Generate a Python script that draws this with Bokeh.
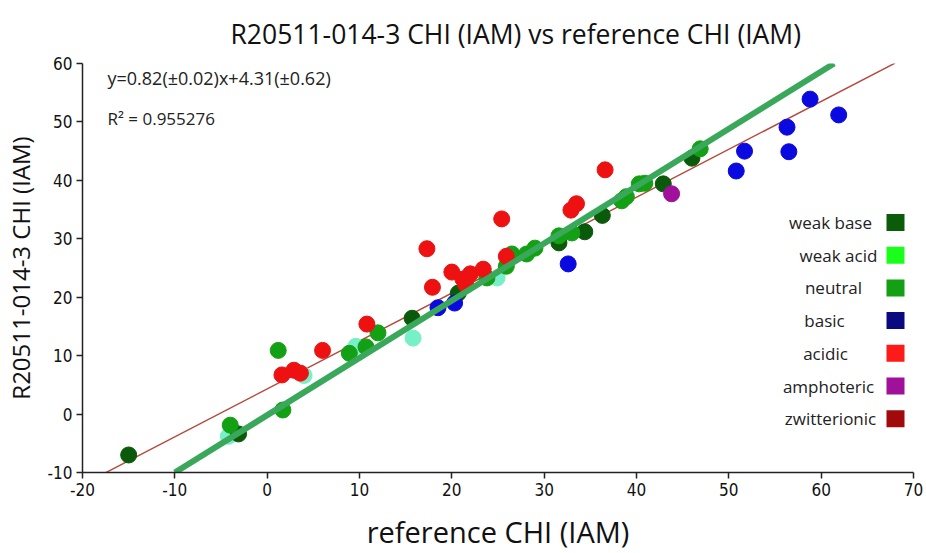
from bokeh.plotting import figure
from bokeh.models import Range1d, Label, BoxAnnotation, SingleIntervalTicker, PrintfTickFormatter
from bokeh.embed import file_html
from bokeh.resources import INLINE

# ---------------- data ----------------
title_text = "R20511-014-3 CHI (IAM) vs reference CHI (IAM)"
x_label = "reference CHI (IAM)"
y_label = "R20511-014-3 CHI (IAM)"
equation_text = "y=0.82(\u00b10.02)x+4.31(\u00b10.62)"
r2_text = "R\u00b2 = 0.955276"

weak_base_x = [-15.0, -3.1, 15.7, 20.7, 31.6, 34.4, 36.3, 42.9, 46.0]
weak_base_y = [-7.0, -3.4, 16.4, 20.7, 29.3, 31.2, 34.0, 39.4, 43.8]

weak_acid_x = [-4.2, 4.0, 9.6, 15.8, 24.9]
weak_acid_y = [-3.8, 6.6, 11.6, 13.0, 23.3]

neutral_x = [-4.0, 1.2, 1.7, 8.9, 10.7, 12.0, 23.8, 25.9, 26.5, 28.1, 29.0, 31.6, 33.0,
             38.4, 38.9, 40.3, 40.9, 46.9]
neutral_y = [-1.9, 10.9, 0.7, 10.4, 11.5, 13.9, 23.3, 25.3, 27.4, 27.4, 28.4, 30.5, 31.0,
             36.5, 37.2, 39.4, 39.5, 45.4]

basic_x = [18.5, 20.3, 32.6, 50.8, 51.7, 56.5, 56.3, 58.8, 61.9]
basic_y = [18.2, 19.0, 25.7, 41.6, 45.0, 44.9, 49.1, 53.9, 51.2]

acidic_x = [1.6, 2.9, 3.6, 6.0, 10.8, 17.3, 17.9, 20.0, 21.2, 22.0, 21.5, 23.4, 25.4, 25.9,
            32.9, 33.5, 36.6]
acidic_y = [6.7, 7.5, 7.0, 10.9, 15.4, 28.3, 21.7, 24.3, 23.1, 24.0, 22.2, 24.8, 33.4, 27.0,
            34.9, 36.0, 41.8]

amphoteric_x = [43.8]
amphoteric_y = [37.7]

zwitterionic_x = []
zwitterionic_y = []

fit_slope = 0.82
fit_intercept = 4.31
fit_line_x = [-17.7, 68.0]
ref_line_x = [-10.0, 61.4]
ref_line_y = [-10.0, 60.0]

legend_labels = ["weak base", "weak acid", "neutral", "basic", "acidic", "amphoteric", "zwitterionic"]
legend_colors = ["#0a5c0a", "#1aff1a", "#13a013", "#0a0a80", "#ff1a1a", "#a0109a", "#a00a0a"]

# ---------------- layout ----------------
W, H = 924, 553
FL, FR, FT, FB = 80, 913, 63, 472   # frame edges on the canvas

p = figure(width=W, height=H, output_backend="svg", toolbar_location=None,
           x_range=Range1d(-20, 70), y_range=Range1d(-10, 60),
           min_border_left=FL, min_border_right=W - FR,
           min_border_top=FT, min_border_bottom=H - FB)
p.outline_line_color = None
p.grid.visible = False
p.background_fill_color = "white"
p.border_fill_color = "white"

p.title.text = title_text
p.title.align = "left"
p.title.offset = 148
p.title.standoff = 24
p.title.text_font = "Open Sans"
p.title.text_font_size = "26.5px"
p.title.text_font_style = "normal"
p.title.text_color = "#111111"

TICK_FONT = "'Liberation Sans Narrow', 'DejaVu Sans Condensed', 'Roboto Condensed', sans-serif"
for ax in (p.xaxis[0], p.yaxis[0]):
    ax.ticker = SingleIntervalTicker(interval=10, num_minor_ticks=0)
    ax.formatter = PrintfTickFormatter(format="%d")
    ax.minor_tick_line_color = None
    ax.axis_line_color = "#222222"
    ax.axis_line_width = 1.5
    ax.major_tick_line_color = "#222222"
    ax.major_tick_line_width = 1.5
    ax.major_tick_out = 6
    ax.major_tick_in = 0
    ax.major_label_text_font = TICK_FONT
    ax.major_label_text_font_size = "17px"
    ax.major_label_text_color = "#111111"
    ax.axis_label_text_font = "Open Sans"
    ax.axis_label_text_font_style = "normal"
    ax.axis_label_text_color = "#111111"

p.xaxis.axis_label = x_label
p.xaxis.axis_label_text_font_size = "29px"
p.xaxis.major_label_standoff = 4
p.xaxis.axis_label_standoff = 13
p.yaxis.axis_label = y_label
p.yaxis.axis_label_text_font_size = "24px"
p.yaxis.major_label_standoff = 4
p.yaxis.axis_label_standoff = 8

# regression line
fit_line_y = [fit_slope * v + fit_intercept for v in fit_line_x]
p.line(fit_line_x, fit_line_y, line_color="#b5473a", line_width=1.4)

pt = 16
p.scatter(weak_acid_x, weak_acid_y, size=pt, color="#77f0c8")
p.scatter(weak_base_x, weak_base_y, size=pt, color="#0b5a0b")
p.scatter(neutral_x, neutral_y, size=pt, color="#14a014")
p.scatter(basic_x, basic_y, size=pt, color="#0a0ae0")
p.scatter(acidic_x, acidic_y, size=pt, color="#ee1111")
p.scatter(amphoteric_x, amphoteric_y, size=pt, color="#a0109a")
if zwitterionic_x:
    p.scatter(zwitterionic_x, zwitterionic_y, size=pt, color="#a00a0a")

# identity line
p.line(ref_line_x, ref_line_y, line_color="#3aa85a", line_width=6)

# annotations: screen units are relative to the frame (x from left, y up from bottom)
def fx(canvas_x):
    return canvas_x - FL

def fy(canvas_y):
    return FB - canvas_y

p.add_layout(Label(x=fx(105), y=fy(77), x_units="screen", y_units="screen",
                   text=equation_text, text_font="Open Sans", text_font_size="18px",
                   text_color="#222222", text_baseline="middle"))
p.add_layout(Label(x=fx(105), y=fy(118), x_units="screen", y_units="screen",
                   text=r2_text, text_font="Open Sans", text_font_size="17px",
                   text_color="#222222", text_baseline="middle"))

legend_text_centers = [828, 836, 831, 822, 823, 826, 828]
for i, (lab, col) in enumerate(zip(legend_labels, legend_colors)):
    cy = 222 + i * 32.7
    p.add_layout(Label(x=fx(legend_text_centers[i]), y=fy(cy), x_units="screen", y_units="screen",
                       text=lab, text_font="Open Sans", text_font_size="17px",
                       text_color="#222222", text_align="center", text_baseline="middle"))
    p.add_layout(BoxAnnotation(left=fx(884), right=fx(902), top=fy(cy - 8.5), bottom=fy(cy + 8.5),
                               left_units="screen", right_units="screen",
                               top_units="screen", bottom_units="screen",
                               fill_color=col, fill_alpha=1.0, line_color=None))

open("out.html", "w").write(file_html(p, INLINE))
